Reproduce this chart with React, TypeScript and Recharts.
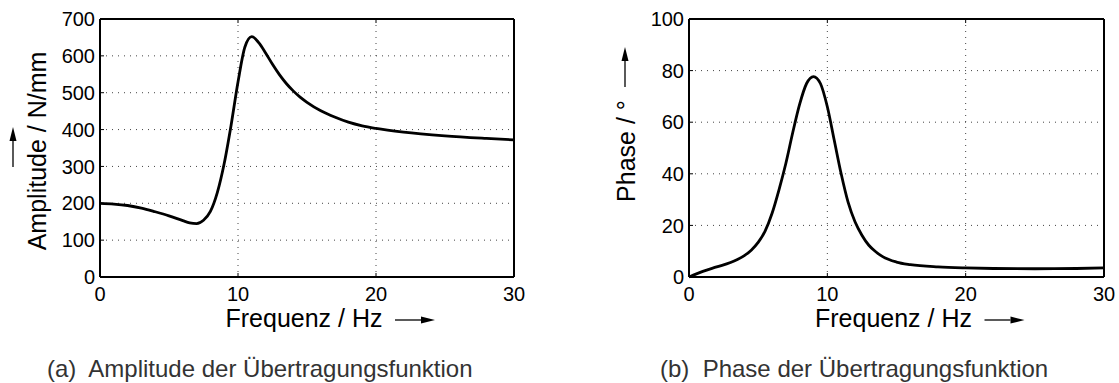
import { LineChart, Line, XAxis, YAxis, CartesianGrid, Label } from 'recharts'

const FONT = '"Liberation Sans", Arial, Helvetica, sans-serif'

// Amplitude der Übertragungsfunktion (N/mm über Hz)
const ampFreq = [0, 1, 2, 3, 4, 5, 6, 6.5, 7, 7.5, 8, 8.5, 9, 9.5, 10, 10.5, 11, 11.5, 12, 12.5, 13, 13.5, 14, 14.5, 15, 16, 17, 18, 19, 20, 22, 25, 28, 30]
const ampValues = [200, 198, 194, 187, 177, 166, 153, 147, 145, 154, 178, 229, 308, 412, 529, 624, 652, 636, 608, 577, 549, 525, 505, 488, 474, 451, 434, 420, 410, 403, 393, 383, 376, 372]

// Phase der Übertragungsfunktion (Grad über Hz)
const phaseFreq = [0, 1, 2, 3, 3.5, 4, 4.5, 5, 5.5, 6, 6.5, 7, 7.5, 8, 8.5, 9, 9.5, 10, 10.5, 11, 11.5, 12, 12.5, 13, 13.5, 14, 15, 16, 18, 20, 22, 25, 28, 30]
const phaseValues = [0, 2.2, 3.9, 5.6, 6.8, 8.3, 10.4, 13.4, 17.8, 24.6, 33.7, 44, 56, 67, 75, 77.7, 75, 66, 53, 40, 29, 21.4, 16.2, 12.3, 9.8, 7.9, 5.8, 4.8, 3.9, 3.5, 3.3, 3.2, 3.3, 3.5]

const freqTicks = [0, 10, 20, 30]
const ampTicks = [0, 100, 200, 300, 400, 500, 600, 700]
const phaseTicks = [0, 20, 40, 60, 80, 100]

const ampData = ampFreq.map((f, i) => ({ f, v: ampValues[i] }))
const phaseData = phaseFreq.map((f, i) => ({ f, v: phaseValues[i] }))

function Arrow({ x1, y1, x2, y2 }: { x1: number; y1: number; x2: number; y2: number }) {
  const len = Math.hypot(x2 - x1, y2 - y1)
  const ux = (x2 - x1) / len
  const uy = (y2 - y1) / len
  const hx = x2 - ux * 14
  const hy = y2 - uy * 14
  const px = -uy * 3.5
  const py = ux * 3.5
  return (
    <g>
      <line x1={x1} y1={y1} x2={hx} y2={hy} stroke="#000" strokeWidth={1.3} />
      <polygon points={`${x2},${y2} ${hx + px},${hy + py} ${hx - px},${hy - py}`} fill="#000" />
    </g>
  )
}

function FreqLabel({ viewBox }: any) {
  const { x, y, width } = viewBox
  const cx = x + width / 2 - 3
  const base = y + 50
  const ax = cx + 91
  return (
    <g>
      <text x={cx} y={base} textAnchor="middle" fontSize={25} fontFamily={FONT} fill="#000">
        Frequenz / Hz
      </text>
      <Arrow x1={ax} y1={base - 7} x2={ax + 40} y2={base - 7} />
    </g>
  )
}

function ValueLabel({ viewBox, text, arrowAfter }: any) {
  const { x, y, width, height } = viewBox
  const left = x + width
  const mid = y + height / 2
  const cy = mid + 3
  const bx = left - 54
  return (
    <g>
      <text
        x={bx}
        y={cy}
        transform={`rotate(-90 ${bx} ${cy})`}
        textAnchor="middle"
        fontSize={25}
        fontFamily={FONT}
        fill="#000"
      >
        {text}
      </text>
      {arrowAfter ? (
        <Arrow x1={left - 64} y1={cy - 64} x2={left - 64} y2={cy - 104} />
      ) : (
        <Arrow x1={left - 87} y1={mid + 19} x2={left - 87} y2={mid - 21} />
      )}
    </g>
  )
}

const tickStyle = { fill: '#000', fontSize: 20, fontFamily: FONT }
const lineStyle = { stroke: '#000', strokeWidth: 2 }

function Panel({ data, yTicks, yMax, yLabel, arrowAfter, width, axisWidth, marginRight }: any) {
  return (
    <LineChart width={width} height={383} data={data} margin={{ top: 13, right: marginRight, bottom: 76, left: 0 }}>
      <CartesianGrid stroke="#444" strokeDasharray="1 5" strokeWidth={1} />
      <XAxis
        dataKey="f"
        type="number"
        domain={[0, 30]}
        ticks={freqTicks}
        interval={0}
        height={30}
        tickSize={-4}
        tickMargin={14}
        axisLine={lineStyle}
        tickLine={{ stroke: '#000' }}
        tick={tickStyle}
      >
        <Label content={(p: any) => <FreqLabel viewBox={p.viewBox} />} />
      </XAxis>
      <XAxis
        xAxisId="top"
        orientation="top"
        dataKey="f"
        type="number"
        domain={[0, 30]}
        ticks={freqTicks}
        interval={0}
        height={6}
        tickSize={-4}
        tickFormatter={() => ''}
        axisLine={lineStyle}
        tickLine={{ stroke: '#000' }}
      />
      <YAxis
        type="number"
        domain={[0, yMax]}
        ticks={yTicks}
        interval={0}
        width={axisWidth}
        tickSize={-4}
        tickMargin={9}
        axisLine={lineStyle}
        tickLine={{ stroke: '#000' }}
        tick={tickStyle}
      >
        <Label content={(p: any) => <ValueLabel viewBox={p.viewBox} text={yLabel} arrowAfter={arrowAfter} />} />
      </YAxis>
      <YAxis
        yAxisId="right"
        orientation="right"
        type="number"
        domain={[0, yMax]}
        ticks={yTicks}
        interval={0}
        width={6}
        tickSize={-4}
        tickFormatter={() => ''}
        axisLine={lineStyle}
        tickLine={{ stroke: '#000' }}
      />
      <Line dataKey="v" type="monotone" stroke="#000" strokeWidth={2.8} dot={false} isAnimationActive={false} />
    </LineChart>
  )
}

const captionStyle = (left: number) => ({
  position: 'absolute' as const,
  left,
  top: 357,
  fontFamily: FONT,
  fontSize: 24,
  lineHeight: '24px',
  color: '#333',
  whiteSpace: 'pre' as const,
})

export default function App() {
  return (
    <div style={{ position: 'absolute', left: 0, top: 0, width: 1119, height: 383, background: '#fff', overflow: 'hidden' }}>
      <div style={{ position: 'absolute', left: 0, top: 0 }}>
        <Panel data={ampData} yTicks={ampTicks} yMax={700} yLabel="Amplitude / N/mm" arrowAfter={false} width={560} axisWidth={100} marginRight={40} />
      </div>
      <div style={{ position: 'absolute', left: 560, top: 0 }}>
        <Panel data={phaseData} yTicks={phaseTicks} yMax={100} yLabel="Phase / °" arrowAfter={true} width={559} axisWidth={129} marginRight={9} />
      </div>
      <div style={captionStyle(47)}>(a)  Amplitude der Übertragungsfunktion</div>
      <div style={captionStyle(660)}>(b)  Phase der Übertragungsfunktion</div>
    </div>
  )
}
